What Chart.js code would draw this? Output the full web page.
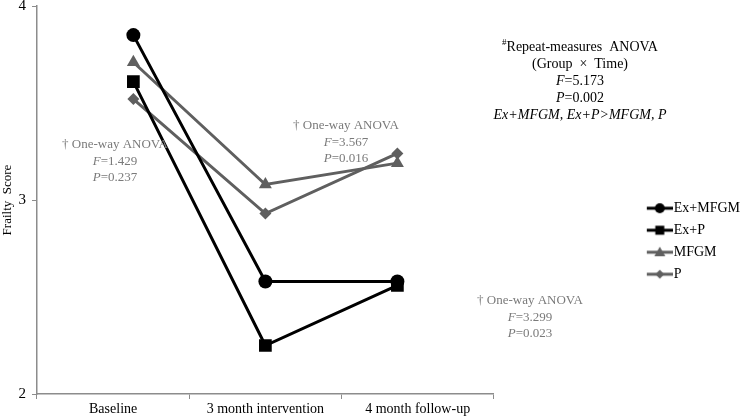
<!DOCTYPE html>
<html>
<head>
<meta charset="utf-8">
<script src="https://cdn.jsdelivr.net/npm/chart.js@4.4.1/dist/chart.umd.min.js"></script>
<style>
html,body{margin:0;padding:0;background:#fff;}
#wrap{width:750px;height:418px;position:relative;}
</style>
</head>
<body>
<div id="wrap"><canvas id="c" width="750" height="418"></canvas></div>
<script>
const categories = ['Baseline', '3 month intervention', '4 month follow-up'];
const seriesNames = ['Ex+MFGM', 'Ex+P', 'MFGM', 'P'];
const exMfgm = [3.85, 2.58, 2.58];
const exP = [3.61, 2.25, 2.56];
const mfgm = [3.71, 3.08, 3.19];
const placebo = [3.52, 2.93, 3.24];
const yTicks = [2, 3, 4];

const SERIF = '"Liberation Serif", "Times New Roman", serif';
const BLACK = '#000000';
const GRAY = '#5f5f5f';
const AXIS = '#8c8c8c';
// padding (in categories) on each side of the data points' category axis
const DATA_AXIS_PAD = 0.73;

function legendIcon(style, color) {
  const c = document.createElement('canvas');
  c.width = 40; c.height = 14;
  const g = c.getContext('2d');
  g.strokeStyle = color; g.fillStyle = color; g.lineWidth = 3;
  g.beginPath(); g.moveTo(14, 7); g.lineTo(40, 7); g.stroke();
  const cx = 27;
  g.beginPath();
  if (style === 'circle') { g.arc(cx, 7, 5, 0, Math.PI * 2); }
  else if (style === 'rect') { g.rect(cx - 4.5, 2.5, 9, 9); }
  else if (style === 'triangle') { g.moveTo(cx, 1.5); g.lineTo(cx + 5.5, 11); g.lineTo(cx - 5.5, 11); g.closePath(); }
  else { g.moveTo(cx, 2.5); g.lineTo(cx + 4.5, 7); g.lineTo(cx, 11.5); g.lineTo(cx - 4.5, 7); g.closePath(); }
  g.fill();
  return c;
}

const styles = ['circle', 'rect', 'triangle', 'rectRot'];
const colors = [BLACK, BLACK, GRAY, GRAY];
const radii = [7, 9, 7.5, 6];
const values = [exMfgm, exP, mfgm, placebo];
const icons = styles.map((s, i) => legendIcon(s, colors[i]));

const datasets = seriesNames.map((name, i) => ({
  label: name,
  data: values[i],
  xAxisID: 'xd',
  borderColor: colors[i],
  backgroundColor: colors[i],
  borderWidth: 3,
  pointStyle: styles[i],
  pointRadius: radii[i],
  pointHoverRadius: radii[i],
  pointBorderWidth: 0,
  pointBackgroundColor: colors[i],
  tension: 0,
  order: i < 2 ? 0 : 1
}));

function drawRuns(ctx, runs, cx, y, color) {
  let total = 0;
  runs.forEach(r => { ctx.font = r.font; total += ctx.measureText(r.t).width; });
  let x = cx - total / 2;
  ctx.fillStyle = color;
  runs.forEach(r => {
    ctx.font = r.font;
    ctx.fillText(r.t, x, y + (r.dy || 0));
    x += ctx.measureText(r.t).width;
  });
}

const annotations = {
  id: 'annotations',
  afterDatasetsDraw(chart) {
    const ctx = chart.ctx;
    ctx.save();
    ctx.textBaseline = 'middle';
    const g = '#7a7a7a';
    const n13 = '13px ' + SERIF, i13 = 'italic 13px ' + SERIF;
    const blocks = [
      [115, 145, '1.429', '0.237'],
      [346, 126, '3.567', '0.016'],
      [530, 301, '3.299', '0.023']
    ];
    blocks.forEach(b => {
      drawRuns(ctx, [{t: '\u2020 One-way ANOVA', font: n13}], b[0], b[1], g);
      drawRuns(ctx, [{t: 'F', font: i13}, {t: '=' + b[2], font: n13}], b[0], b[1] + 16.5, g);
      drawRuns(ctx, [{t: 'P', font: i13}, {t: '=' + b[3], font: n13}], b[0], b[1] + 33, g);
    });
    const n14 = '14px ' + SERIF, i14 = 'italic 14px ' + SERIF;
    const cx = 580;
    drawRuns(ctx, [{t: '#', font: '9px ' + SERIF, dy: -4}, {t: 'Repeat-measures  ANOVA', font: n14}], cx, 47, BLACK);
    drawRuns(ctx, [{t: '(Group  \u00D7  Time)', font: n14}], cx, 64, BLACK);
    drawRuns(ctx, [{t: 'F', font: i14}, {t: '=5.173', font: n14}], cx, 81, BLACK);
    drawRuns(ctx, [{t: 'P', font: i14}, {t: '=0.002', font: n14}], cx, 98, BLACK);
    drawRuns(ctx, [{t: 'Ex+MFGM, Ex+P>MFGM, P', font: i14}], cx, 115, BLACK);
    ctx.restore();
  }
};

new Chart(document.getElementById('c'), {
  type: 'line',
  data: { labels: categories, datasets: datasets },
  options: {
    responsive: false,
    animation: false,
    devicePixelRatio: 1,
    layout: { autoPadding: false, padding: { top: 6, left: 0, right: 0, bottom: 0 } },
    plugins: {
      tooltip: { enabled: false },
      legend: {
        position: 'right',
        align: 'center',
        title: { display: true, text: '', padding: { top: 44, bottom: 0 }, font: { size: 12 } },
        labels: {
          usePointStyle: true,
          pointStyleWidth: 28,
          boxHeight: 14,
          padding: 8,
          color: '#000',
          font: { family: SERIF, size: 14 },
          generateLabels(chart) {
            return chart.data.datasets.map((d, i) => ({
              text: d.label,
              fillStyle: d.borderColor,
              strokeStyle: d.borderColor,
              lineWidth: 0,
              pointStyle: icons[i],
              datasetIndex: i,
              hidden: false,
              fontColor: '#000'
            }));
          }
        }
      }
    },
    scales: {
      x: {
        type: 'category',
        offset: true,
        grid: { display: true, drawOnChartArea: false, offset: true, tickLength: 5, color: AXIS },
        border: { display: true, color: AXIS, width: 1.5 },
        ticks: { color: '#000', font: { family: SERIF, size: 14 }, padding: 2, maxRotation: 0 },
        afterFit(s) { s.height = 24; s.paddingLeft = 0; s.paddingRight = 0; }
      },
      xd: {
        type: 'category',
        position: 'bottom',
        display: false,
        offset: false,
        afterBuildTicks(s) {
          const n = s.getLabels().length;
          s._startValue = -DATA_AXIS_PAD;
          s._valueRange = (n - 1) + 2 * DATA_AXIS_PAD;
        }
      },
      y: {
        min: 2, max: 4,
        afterBuildTicks(s) { s.ticks = yTicks.map(v => ({ value: v })); },
        grid: { display: true, drawOnChartArea: false, tickLength: 5, color: AXIS },
        border: { display: true, color: AXIS, width: 1.5 },
        ticks: { color: '#000', font: { family: SERIF, size: 15 }, padding: 6 },
        title: { display: true, text: 'Frailty  Score', color: '#000', font: { family: SERIF, size: 13 }, padding: 0 },
        afterFit(s) { s.width = 37; s.paddingTop = 0; s.paddingBottom = 0; }
      },
      yR: {
        position: 'right',
        display: true,
        grid: { display: false },
        border: { display: false },
        ticks: { display: false },
        afterFit(s) { s.width = 137; s.paddingTop = 0; s.paddingBottom = 0; }
      }
    }
  },
  plugins: [annotations]
});
</script>
</body>
</html>
